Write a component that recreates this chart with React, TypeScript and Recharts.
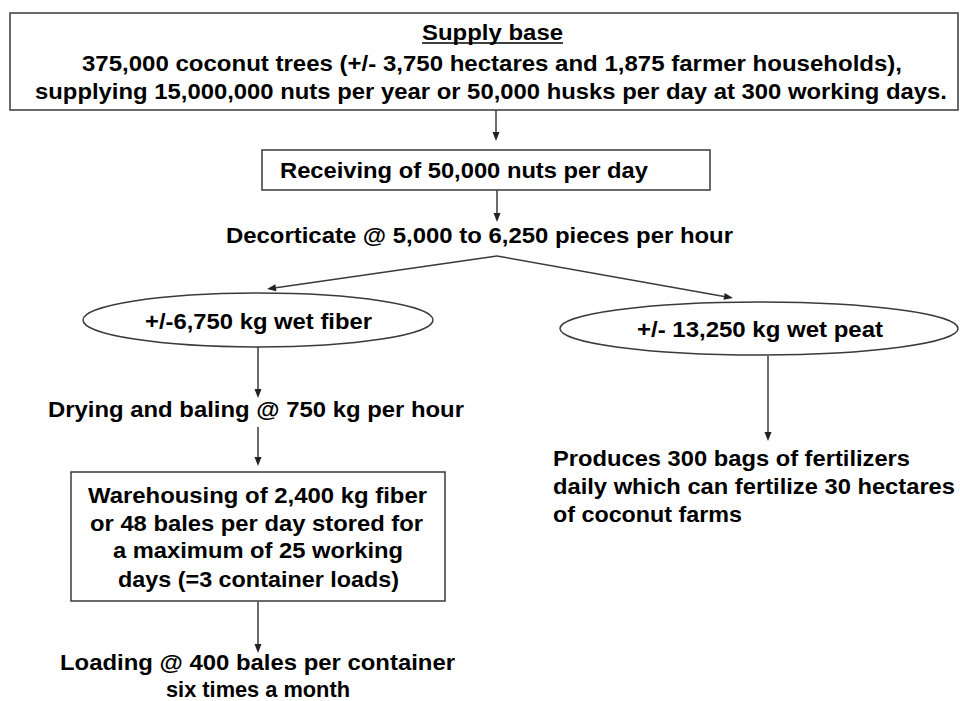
import { ScatterChart, Scatter, XAxis, YAxis, ReferenceArea, ReferenceLine } from "recharts";

const W = 960;
const H = 701;

// text of each step, line by line
const lines = [
  "Supply base",
  "375,000 coconut trees (+/- 3,750 hectares and 1,875 farmer households),",
  "supplying 15,000,000 nuts per year or 50,000 husks per day at 300 working days.",
  "Receiving of 50,000 nuts per day",
  "Decorticate @ 5,000 to 6,250 pieces per hour",
  "+/-6,750 kg wet fiber",
  "+/- 13,250 kg wet peat",
  "Drying and baling @ 750 kg per hour",
  "Warehousing of 2,400 kg fiber",
  "or 48 bales per day stored for",
  "a maximum of 25 working",
  "days (=3 container loads)",
  "Loading @ 400 bales per container",
  "six times a month",
  "Produces 300 bags of fertilizers",
  "daily which can fertilize 30 hectares",
  "of coconut farms",
];

// where each line starts (x) and sits (baseline y), in chart units
const lineX = [422, 82, 35, 280, 226, 145, 637, 48, 88, 90, 113, 118, 60, 166, 553, 553, 553];
const lineY = [40, 71, 99, 178, 243, 329, 337, 417, 503, 531, 558, 587, 670, 697, 466, 494, 522];
const lineLen = [141, 820, 912, 368, 507, 227, 246, 416, 339, 333, 290, 281, 395, 184, 357, 402, 189];

// rectangular steps: [x1, y1, x2, y2]
const boxes = [
  [10, 13, 958, 110],
  [262, 150, 710, 190],
  [71, 472, 445, 601],
];

// oval outputs: [x1, y1, x2, y2]
const ovals = [
  [83, 293, 433, 347],
  [560, 302, 958, 355],
];

// arrows: [fromX, fromY, toX, toY]
const arrows = [
  [496, 110, 496, 141],
  [497, 190, 497, 222],
  [497, 256, 267, 289],
  [497, 256, 733, 298],
  [258, 347, 258, 398],
  [258, 427, 258, 466],
  [258, 602, 258, 653],
  [768, 356, 768, 441],
];

const labelData = lines.map((text, i) => ({
  x: lineX[i],
  y: lineY[i],
  text,
  len: lineLen[i],
  underline: i === 0,
}));

const INK = "#3a3a3a";

function LabelShape(props: any) {
  const { cx, cy, payload } = props;
  return (
    <g>
      <text
        x={cx}
        y={cy}
        textLength={payload.len}
        lengthAdjust="spacingAndGlyphs"
        fontFamily="'Liberation Sans', Arial, sans-serif"
        fontWeight={700}
        fontSize={22}
        fill="#000"
      >
        {payload.text}
      </text>
      {payload.underline && (
        <line x1={cx} x2={cx + payload.len} y1={cy + 3} y2={cy + 3} stroke="#000" strokeWidth={1.5} />
      )}
    </g>
  );
}

function ArrowShape(props: any) {
  const { x1, y1, x2, y2 } = props;
  const ang = Math.atan2(y2 - y1, x2 - x1);
  const len = 9;
  const half = 3.5;
  const bx = x2 - len * Math.cos(ang);
  const by = y2 - len * Math.sin(ang);
  const px = -Math.sin(ang) * half;
  const py = Math.cos(ang) * half;
  return (
    <g>
      <line x1={x1} y1={y1} x2={bx} y2={by} stroke={INK} strokeWidth={1.5} />
      <polygon points={`${x2},${y2} ${bx + px},${by + py} ${bx - px},${by - py}`} fill="#222" />
    </g>
  );
}

function OvalShape(props: any) {
  const { x, y, width, height } = props;
  return (
    <ellipse
      cx={x + width / 2}
      cy={y + height / 2}
      rx={width / 2}
      ry={height / 2}
      fill="#fff"
      stroke={INK}
      strokeWidth={1.5}
    />
  );
}

export default function App() {
  return (
    <div style={{ position: "absolute", left: 0, top: 0, width: W, height: H, background: "#fff" }}>
      <ScatterChart width={W} height={H} margin={{ top: 0, right: 0, bottom: 0, left: 0 }}>
        <XAxis type="number" dataKey="x" domain={[0, W]} hide allowDataOverflow />
        <YAxis type="number" dataKey="y" domain={[0, H]} reversed hide allowDataOverflow />
        {boxes.map((b, i) => (
          <ReferenceArea
            key={`box-${i}`}
            x1={b[0]}
            y1={b[1]}
            x2={b[2]}
            y2={b[3]}
            fill="#fff"
            fillOpacity={1}
            stroke={INK}
            strokeWidth={1.5}
            ifOverflow="visible"
          />
        ))}
        {ovals.map((o, i) => (
          <ReferenceArea
            key={`oval-${i}`}
            x1={o[0]}
            y1={o[1]}
            x2={o[2]}
            y2={o[3]}
            ifOverflow="visible"
            shape={OvalShape}
          />
        ))}
        {arrows.map((a, i) => (
          <ReferenceLine
            key={`arrow-${i}`}
            segment={[
              { x: a[0], y: a[1] },
              { x: a[2], y: a[3] },
            ]}
            ifOverflow="visible"
            shape={ArrowShape}
          />
        ))}
        <Scatter data={labelData} isAnimationActive={false} shape={(p: any) => <LabelShape {...p} />} />
      </ScatterChart>
    </div>
  );
}
